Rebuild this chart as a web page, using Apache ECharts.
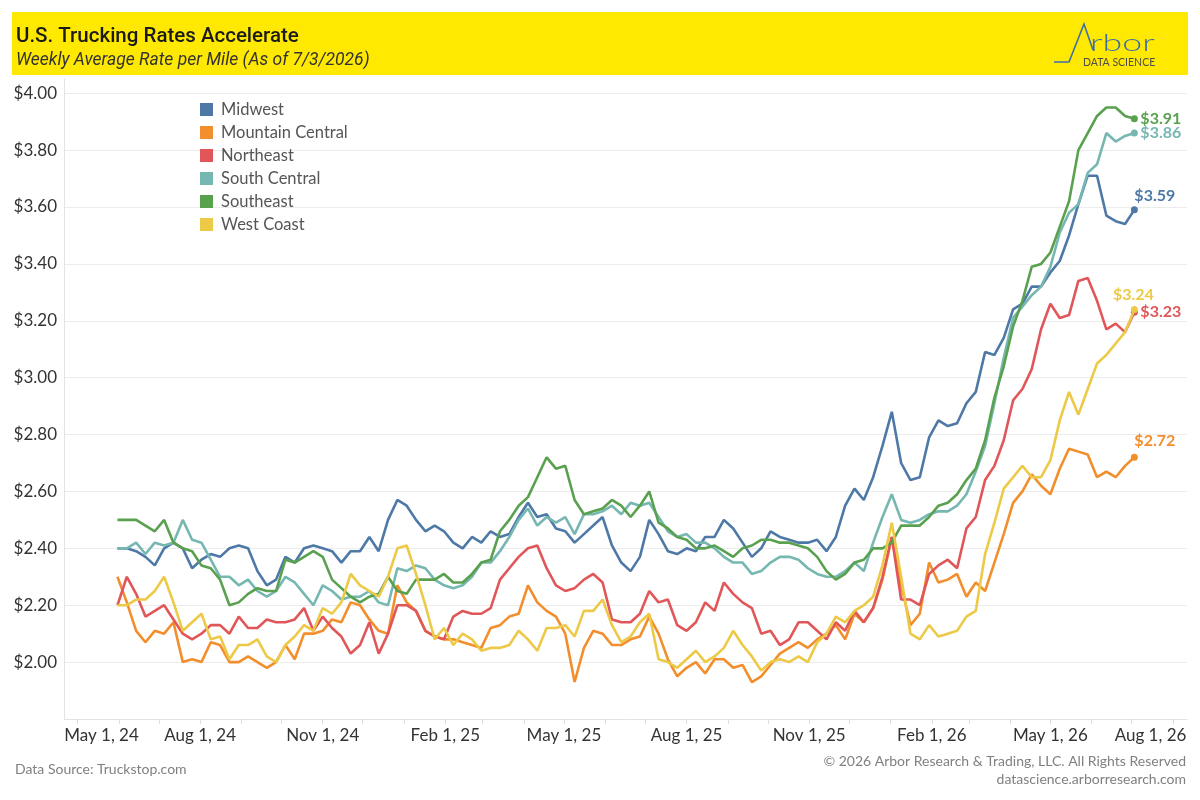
<!DOCTYPE html>
<html>
<head>
<meta charset="utf-8">
<title>U.S. Trucking Rates Accelerate</title>
<script src="https://cdn.jsdelivr.net/npm/echarts@6.0.0/dist/echarts.min.js"></script>
<style>
  html, body { margin: 0; padding: 0; background: #ffffff; }
  #chart { width: 1200px; height: 800px; }
</style>
</head>
<body>
<div id="chart"></div>
<script>
// ---------------- DATA ----------------
const seriesNames = ['Midwest', 'Mountain Central', 'Northeast', 'South Central', 'Southeast', 'West Coast'];
const seriesColors = ['#4e79a7', '#f28e2b', '#e15759', '#76b7b2', '#59a14f', '#edc948'];

// weekly observations: first week ending 2024-05-31, last 2026-07-03
const firstWeek = '2024-05-31';
const weekCount = 110;

const midwest = [
  2.40, 2.40, 2.39, 2.37, 2.34, 2.40, 2.42, 2.40, 2.33, 2.36, 2.38, 2.37, 2.40, 2.41, 2.40, 2.32, 2.27, 2.29, 2.37, 2.35, 2.40, 2.41, 2.40, 2.39, 2.35, 2.39, 2.39,
  2.44, 2.39, 2.50, 2.57, 2.55, 2.50, 2.46, 2.48, 2.46, 2.42, 2.40, 2.44, 2.42, 2.46, 2.44, 2.45, 2.51, 2.56, 2.51, 2.52, 2.47, 2.46, 2.42, 2.45, 2.48, 2.51,
  2.41, 2.35, 2.32, 2.37, 2.50, 2.45, 2.39, 2.38, 2.40, 2.39, 2.44, 2.44, 2.50, 2.47, 2.42, 2.37, 2.40, 2.46, 2.44, 2.43, 2.42, 2.42, 2.43, 2.39, 2.44, 2.55, 2.61,
  2.57, 2.65, 2.76, 2.88, 2.70, 2.64, 2.65, 2.79, 2.85, 2.83, 2.84, 2.91, 2.95, 3.09, 3.08, 3.14, 3.24, 3.26, 3.32, 3.32, 3.37, 3.41, 3.50, 3.61, 3.71, 3.71, 3.57, 3.55, 3.54, 3.59
];
const mountainCentral = [
  2.30, 2.21, 2.11, 2.07, 2.11, 2.10, 2.14, 2.00, 2.01, 2.00, 2.07, 2.06, 2.00, 2.00, 2.02, 2.00, 1.98, 2.00, 2.06, 2.01, 2.10, 2.10, 2.11, 2.15, 2.14, 2.21, 2.20,
  2.15, 2.11, 2.10, 2.27, 2.21, 2.18, 2.11, 2.09, 2.08, 2.08, 2.07, 2.06, 2.05, 2.12, 2.13, 2.16, 2.17, 2.27, 2.21, 2.18, 2.16, 2.10, 1.93, 2.05, 2.11, 2.10,
  2.06, 2.06, 2.08, 2.09, 2.16, 2.10, 2.01, 1.95, 1.98, 2.00, 1.96, 2.01, 2.01, 1.98, 1.99, 1.93, 1.95, 1.99, 2.03, 2.05, 2.07, 2.05, 2.08, 2.10, 2.13, 2.08, 2.17,
  2.14, 2.19, 2.29, 2.44, 2.27, 2.13, 2.17, 2.35, 2.28, 2.29, 2.31, 2.23, 2.28, 2.25, 2.35, 2.45, 2.56, 2.60, 2.66, 2.62, 2.59, 2.68, 2.75, 2.74, 2.73, 2.65, 2.67, 2.65, 2.69, 2.72
];
const northeast = [
  2.20, 2.30, 2.24, 2.16, 2.18, 2.20, 2.15, 2.10, 2.08, 2.10, 2.13, 2.13, 2.10, 2.16, 2.12, 2.12, 2.15, 2.14, 2.14, 2.15, 2.19, 2.11, 2.16, 2.12, 2.09, 2.03, 2.06,
  2.14, 2.03, 2.10, 2.20, 2.20, 2.18, 2.11, 2.09, 2.08, 2.16, 2.18, 2.17, 2.17, 2.19, 2.29, 2.33, 2.37, 2.40, 2.41, 2.33, 2.27, 2.25, 2.26, 2.29, 2.31, 2.28,
  2.15, 2.14, 2.14, 2.17, 2.25, 2.21, 2.22, 2.13, 2.11, 2.14, 2.21, 2.18, 2.28, 2.24, 2.21, 2.19, 2.10, 2.11, 2.06, 2.08, 2.14, 2.14, 2.11, 2.08, 2.14, 2.11, 2.18,
  2.14, 2.19, 2.30, 2.44, 2.22, 2.22, 2.20, 2.31, 2.34, 2.36, 2.33, 2.47, 2.51, 2.64, 2.69, 2.78, 2.92, 2.96, 3.03, 3.17, 3.26, 3.21, 3.22, 3.34, 3.35, 3.27, 3.17, 3.19, 3.16, 3.23
];
const southCentral = [
  2.40, 2.40, 2.42, 2.38, 2.42, 2.41, 2.42, 2.50, 2.43, 2.42, 2.36, 2.30, 2.30, 2.27, 2.29, 2.25, 2.23, 2.25, 2.30, 2.28, 2.24, 2.20, 2.27, 2.25, 2.22, 2.23, 2.23,
  2.25, 2.21, 2.20, 2.33, 2.32, 2.34, 2.33, 2.29, 2.27, 2.26, 2.27, 2.30, 2.35, 2.35, 2.39, 2.44, 2.50, 2.54, 2.48, 2.51, 2.49, 2.51, 2.45, 2.52, 2.52, 2.53,
  2.55, 2.52, 2.56, 2.55, 2.56, 2.51, 2.46, 2.44, 2.45, 2.42, 2.42, 2.40, 2.37, 2.35, 2.35, 2.31, 2.32, 2.35, 2.37, 2.37, 2.36, 2.33, 2.31, 2.30, 2.30, 2.32, 2.35,
  2.32, 2.42, 2.51, 2.59, 2.50, 2.49, 2.50, 2.52, 2.53, 2.53, 2.55, 2.59, 2.67, 2.76, 2.91, 3.07, 3.21, 3.25, 3.29, 3.32, 3.39, 3.51, 3.58, 3.61, 3.72, 3.75, 3.86, 3.83, 3.85, 3.86
];
const southeast = [
  2.50, 2.50, 2.50, 2.48, 2.46, 2.50, 2.42, 2.40, 2.39, 2.34, 2.33, 2.29, 2.20, 2.21, 2.24, 2.26, 2.25, 2.25, 2.36, 2.35, 2.37, 2.39, 2.37, 2.29, 2.26, 2.23, 2.21,
  2.23, 2.24, 2.30, 2.25, 2.24, 2.29, 2.29, 2.29, 2.31, 2.28, 2.28, 2.31, 2.35, 2.36, 2.46, 2.50, 2.55, 2.58, 2.65, 2.72, 2.68, 2.69, 2.57, 2.52, 2.53, 2.54,
  2.57, 2.55, 2.51, 2.55, 2.60, 2.49, 2.47, 2.44, 2.43, 2.40, 2.40, 2.41, 2.39, 2.37, 2.40, 2.41, 2.43, 2.43, 2.42, 2.42, 2.41, 2.40, 2.37, 2.32, 2.29, 2.31, 2.35,
  2.36, 2.40, 2.40, 2.42, 2.48, 2.48, 2.48, 2.51, 2.55, 2.56, 2.59, 2.64, 2.68, 2.78, 2.93, 3.04, 3.18, 3.27, 3.39, 3.40, 3.44, 3.53, 3.62, 3.80, 3.86, 3.92, 3.95, 3.95, 3.92, 3.91
];
const westCoast = [
  2.20, 2.20, 2.22, 2.22, 2.25, 2.30, 2.21, 2.11, 2.14, 2.17, 2.08, 2.09, 2.01, 2.06, 2.06, 2.08, 2.02, 2.00, 2.06, 2.09, 2.13, 2.11, 2.19, 2.17, 2.21, 2.31, 2.27,
  2.25, 2.23, 2.30, 2.40, 2.41, 2.31, 2.20, 2.08, 2.12, 2.06, 2.10, 2.08, 2.04, 2.05, 2.05, 2.06, 2.11, 2.08, 2.04, 2.12, 2.12, 2.13, 2.09, 2.18, 2.18, 2.22,
  2.13, 2.07, 2.09, 2.14, 2.17, 2.01, 2.00, 1.98, 2.01, 2.04, 2.00, 2.02, 2.05, 2.11, 2.06, 2.02, 1.97, 2.00, 2.01, 2.00, 2.02, 2.00, 2.07, 2.10, 2.16, 2.14, 2.18,
  2.20, 2.23, 2.34, 2.49, 2.30, 2.10, 2.08, 2.13, 2.09, 2.10, 2.11, 2.16, 2.18, 2.38, 2.49, 2.61, 2.65, 2.69, 2.65, 2.65, 2.71, 2.85, 2.95, 2.87, 2.96, 3.05, 3.08, 3.12, 3.16, 3.24
];

// x-axis tick labels (quarterly) and minor ticks (monthly)
const quarterTicks = ['2024-05-01', '2024-08-01', '2024-11-01', '2025-02-01', '2025-05-01', '2025-08-01', '2025-11-01', '2026-02-01', '2026-05-01', '2026-08-01'];
const monthNames = ['Jan', 'Feb', 'Mar', 'Apr', 'May', 'Jun', 'Jul', 'Aug', 'Sep', 'Oct', 'Nov', 'Dec'];

// ---------------- BUILD ----------------
const DAY = 86400000;
function parseUTC(s) { const p = s.split('-').map(Number); return Date.UTC(p[0], p[1] - 1, p[2]); }
const t0 = parseUTC(firstWeek);
const weekDates = [];
for (let i = 0; i < weekCount; i++) weekDates.push(t0 + i * 7 * DAY);

const monthTicks = [];
for (let y = 2024, m = 4; y < 2026 || (y === 2026 && m <= 7); ) {
  monthTicks.push(Date.UTC(y, m, 1));
  m++; if (m > 11) { m = 0; y++; }
}
const quarterTickValues = quarterTicks.map(parseUTC);
const firstQ = quarterTickValues[0], lastQ = quarterTickValues[quarterTickValues.length - 1];

const allValues = [midwest, mountainCentral, northeast, southCentral, southeast, westCoast];
const endOffsets = [[-6, -14, 'left'], [-6, -16, 'left'], [0, 0, 'left'], [0, 0, 'left'], [0, 0, 'left'], [-7, -15, 'center']];

const FONT = 'Lato, "Noto Sans", sans-serif';
const TITLE_FONT = 'Roboto, "Noto Sans", sans-serif';

const series = seriesNames.map((name, k) => {
  const vals = allValues[k];
  const last = vals.length - 1;
  return {
    name: name,
    type: 'line',
    data: vals.map((v, i) => [weekDates[i], v]),
    showSymbol: true,
    showAllSymbol: true,
    symbol: 'circle',
    symbolSize: (v, p) => (p.dataIndex === last ? 7 : 0),
    lineStyle: { width: 2.6, color: seriesColors[k] },
    itemStyle: { color: seriesColors[k] },
    emphasis: { disabled: true },
    endLabel: {
      show: true,
      formatter: p => '$' + p.value[1].toFixed(2),
      color: seriesColors[k],
      fontWeight: 'bold',
      fontSize: 16,
      fontFamily: FONT,
      distance: 6,
      align: endOffsets[k][2],
      offset: [endOffsets[k][0], endOffsets[k][1]]
    },
    z: 2 + k
  };
});

const chart = echarts.init(document.getElementById('chart'), null, { renderer: 'canvas' });

chart.setOption({
  animation: false,
  backgroundColor: '#ffffff',
  textStyle: { fontFamily: FONT },
  title: {
    text: 'U.S. Trucking Rates Accelerate',
    subtext: 'Weekly Average Rate per Mile (As of 7/3/2026)',
    left: 11,
    top: 21,
    itemGap: 5,
    textStyle: { fontFamily: TITLE_FONT, fontSize: 20.5, fontWeight: 500, color: '#1a1a1a' },
    subtextStyle: { fontFamily: TITLE_FONT, fontSize: 17.5, fontStyle: 'italic', color: '#333333' }
  },
  legend: {
    data: seriesNames,
    orient: 'vertical',
    left: 200,
    top: 101,
    padding: 0,
    itemWidth: 13,
    itemHeight: 13,
    itemGap: 6,
    icon: 'rect',
    selectedMode: false,
    textStyle: { color: '#555555', fontSize: 16.5, fontFamily: FONT, padding: [0, 0, 0, 3] }
  },
  grid: { left: 64, right: 13, top: 79, bottom: 81, containLabel: false, outerBoundsMode: 'none' },
  xAxis: {
    type: 'value',
    min: firstQ - 10.13 * DAY,
    max: lastQ + 10.5 * DAY,
    axisLine: { show: true, lineStyle: { color: '#e3e3e3', width: 1 } },
    axisTick: { show: true, length: 5, lineStyle: { color: '#dedede' }, customValues: monthTicks },
    axisLabel: {
      customValues: quarterTickValues,
      color: '#333333',
      fontSize: 17,
      fontFamily: FONT,
      margin: 8,
      hideOverlap: false,
      showMinLabel: true,
      showMaxLabel: true,
      formatter: function (val) {
        const d = new Date(val);
        const txt = monthNames[d.getUTCMonth()] + ' ' + d.getUTCDate() + ', ' + String(d.getUTCFullYear()).slice(2);
        if (Math.abs(val - firstQ) < DAY) return '{first|' + txt + '}';
        if (Math.abs(val - lastQ) < DAY) return '{last|' + txt + '}';
        return txt;
      },
      rich: {
        first: { padding: [0, 0, 0, 48], fontSize: 17, color: '#333333', fontFamily: FONT },
        last: { padding: [0, 45, 0, 0], fontSize: 17, color: '#333333', fontFamily: FONT }
      }
    },
    splitLine: { show: false }
  },
  yAxis: {
    type: 'value',
    min: 1.8,
    max: 4.05,
    interval: 0.2,
    axisLine: { show: true, lineStyle: { color: '#e3e3e3' } },
    axisTick: { show: false },
    axisLabel: {
      color: '#333333',
      fontSize: 17,
      fontFamily: FONT,
      margin: 7,
      formatter: v => (v < 1.9 || v > 4.01 ? '' : '$' + v.toFixed(2))
    },
    splitLine: { show: true, showMaxLine: false, lineStyle: { color: '#ececec', width: 1 } }
  },
  graphic: [
    { type: 'rect', left: 12, top: 12, z: -10, shape: { width: 1176, height: 63 }, style: { fill: '#ffe900' } },
    { type: 'polyline', z: 10, shape: { points: [[1054, 62], [1069, 62], [1084, 24], [1093, 50]] }, style: { stroke: '#3d6fa6', lineWidth: 1.6, fill: null } },
    {
      type: 'group', x: 1090, y: 55, scaleX: 1.55, z: 10,
      children: [
        { type: 'text', x: 0, y: 0, style: { text: 'rbor', fill: '#3d6fa6', font: '300 23px Lato, "Noto Sans", sans-serif', verticalAlign: 'bottom' } }
      ]
    },
    { type: 'text', z: 10, x: 1083, y: 57, style: { text: 'DATA SCIENCE', fill: '#4d4d4d', font: '10.5px Lato, "Noto Sans", sans-serif' } },
    { type: 'text', left: 15, top: 762, style: { text: 'Data Source: Truckstop.com', fill: '#808080', font: '14px Lato, "Noto Sans", sans-serif' } },
    { type: 'text', right: 14, top: 754, style: { text: '\u00A9 2026 Arbor Research & Trading, LLC. All Rights Reserved', fill: '#808080', font: '14px Lato, "Noto Sans", sans-serif', align: 'right' } },
    { type: 'text', right: 14, top: 772, style: { text: 'datascience.arborresearch.com', fill: '#808080', font: '14px Lato, "Noto Sans", sans-serif', align: 'right' } }
  ],
  series: series
});
</script>
</body>
</html>
